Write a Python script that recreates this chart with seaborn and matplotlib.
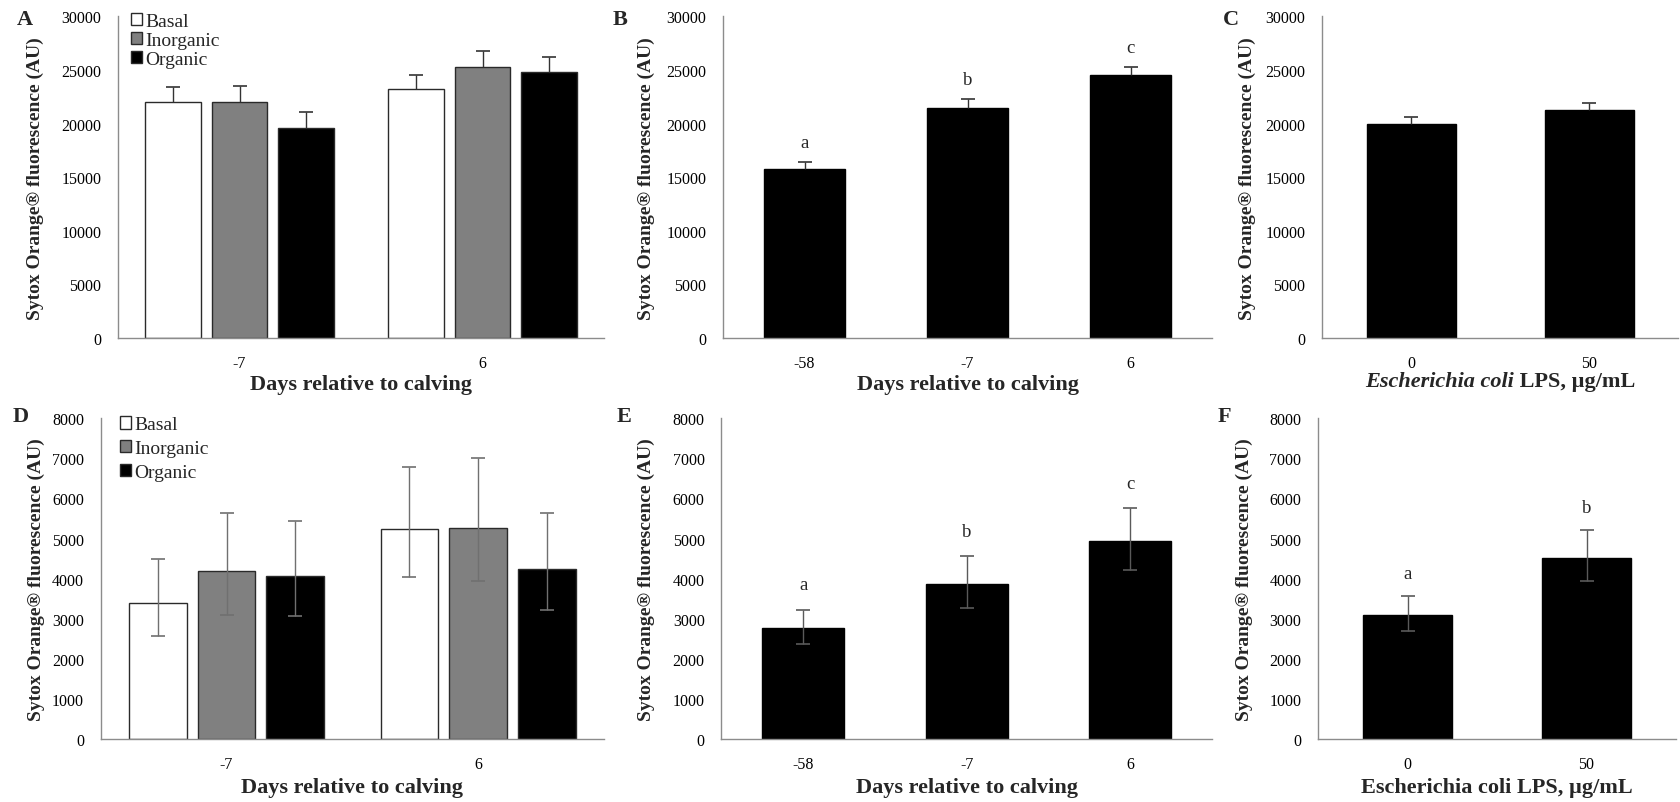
import numpy as np
import pandas as pd
import matplotlib
matplotlib.use("Agg")
import matplotlib.pyplot as plt
import matplotlib.transforms as mtrans
from matplotlib.offsetbox import TextArea, HPacker, AnchoredOffsetbox
import seaborn as sns

# ---------------- data ----------------
diets = ["Basal", "Inorganic", "Organic"]
days_ad = ["-7", "6"]
days_be = ["-58", "-7", "6"]
lps_dose = ["0", "50"]

# Panel A: means and (upper) SE
a_basal = [22000, 23220]
a_inorganic = [22050, 25300]
a_organic = [19600, 24800]
a_basal_se = [1400, 1280]
a_inorganic_se = [1480, 1460]
a_organic_se = [1430, 1400]

# Panel B
b_mean = [15730, 21480, 24530]
b_se = [710, 780, 740]
b_letters = ["a", "b", "c"]

# Panel C
c_mean = [19940, 21250]
c_se = [650, 650]

# Panel D: means, lower and upper limits
d_basal = [3400, 5230]
d_basal_lo = [2570, 4040]
d_basal_hi = [4490, 6780]
d_inorganic = [4180, 5260]
d_inorganic_lo = [3100, 3930]
d_inorganic_hi = [5650, 7000]
d_organic = [4070, 4250]
d_organic_lo = [3080, 3230]
d_organic_hi = [5430, 5630]

# Panel E
e_mean = [2760, 3860, 4930]
e_lo = [2370, 3280, 4220]
e_hi = [3230, 4560, 5770]
e_letters = ["a", "b", "c"]

# Panel F
f_mean = [3090, 4520]
f_lo = [2700, 3930]
f_hi = [3560, 5220]
f_letters = ["a", "b"]

ylab = "Sytox Orange® fluorescence (AU)"
xlab_days = "Days relative to calving"
xlab_lps_italic = "Escherichia coli"
xlab_lps_rest = " LPS, µg/mL"

# ---------------- style ----------------
sns.set_style("white")
FAMILY = ["Liberation Serif", "DejaVu Serif"]
plt.rcParams["font.family"] = FAMILY
GRAY = "#8c8c8c"
palette = {"Basal": "white", "Inorganic": "#808080", "Organic": "black"}

W, H = 1680, 803
fig = plt.figure(figsize=(W / 100, H / 100), dpi=100)
fig.patch.set_facecolor("white")


def make_ax(left, right, top, bottom):
    return fig.add_axes([left / W, 1 - bottom / H, (right - left) / W, (bottom - top) / H])


def style(ax, ymax, ystep, ylabel_cx, xlabel_base, xlabel=None):
    ax.set_ylim(0, ymax)
    ticks = np.arange(0, ymax + 1, ystep)
    ax.set_yticks(ticks)
    ax.set_yticklabels([str(int(t)) for t in ticks])
    for s in ["top", "right"]:
        ax.spines[s].set_visible(False)
    for s in ["left", "bottom"]:
        ax.spines[s].set_color(GRAY)
        ax.spines[s].set_linewidth(1.0)
    ax.tick_params(axis="y", length=4, width=1, color=GRAY, direction="out",
                   pad=8, labelsize=11.5, labelcolor="black")
    n = len(ax.get_xticks())
    ax.tick_params(axis="x", which="major", length=0, pad=12, labelsize=11.5,
                   labelcolor="black")
    ax.set_xticks(np.arange(-0.5, n, 1.0), minor=True)
    ax.tick_params(axis="x", which="minor", length=5, width=1, color=GRAY,
                   direction="out")
    ax.set_xlim(-0.5, n - 0.5)
    ax.set_ylabel(ylab, fontsize=14, fontweight="bold")
    ax.yaxis.label.set_va("center")
    ax.yaxis.set_label_coords(ylabel_cx / W, 0.5,
                              transform=mtrans.blended_transform_factory(fig.transFigure, ax.transAxes))
    if xlabel is not None:
        ax.set_xlabel(xlabel, fontsize=16, fontweight="bold")
        ax.xaxis.label.set_va("baseline")
        ax.xaxis.set_label_coords(0.5, 1 - xlabel_base / H,
                                  transform=mtrans.blended_transform_factory(ax.transAxes, fig.transFigure))
    else:
        ax.set_xlabel("")


def bar_centers(container):
    return [b.get_x() + b.get_width() / 2 for b in container]


def add_err(ax, xs, means, lo, hi, ecolor):
    eb = ax.errorbar(xs, means, yerr=[lo, hi], fmt="none", ecolor=ecolor,
                     elinewidth=1.0, capsize=5, capthick=1.2, zorder=5)
    # one-sided (plus only) error bars: hide the lower cap
    if all(v == 0 for v in lo) and len(eb[1]) == 2:
        eb[1][0].set_visible(False)


def grouped(ax, means, lo_err, hi_err, ecolor):
    df = pd.DataFrame({
        "day": days_ad * 3,
        "diet": np.repeat(diets, len(days_ad)),
        "value": means[0] + means[1] + means[2],
    })
    sns.barplot(data=df, x="day", y="value", hue="diet", order=days_ad,
                hue_order=diets, palette=palette, saturation=1, width=0.82,
                gap=0.16, edgecolor="#2a2a2a", linewidth=1.0, errorbar=None,
                ax=ax, legend=False)
    bars = list(ax.containers)
    for i, cont in enumerate(bars):
        add_err(ax, bar_centers(cont), means[i], lo_err[i], hi_err[i], ecolor)
    return bars


def simple(ax, cats, means, lo_err, hi_err, ecolor):
    sns.barplot(x=cats, y=means, order=cats, color="black", saturation=1,
                width=0.5, edgecolor="black", linewidth=1.0, errorbar=None, ax=ax)
    xs = bar_centers(list(ax.containers)[0])
    add_err(ax, xs, means, lo_err, hi_err, ecolor)
    return xs


def legend(ax, bars, x, y, spacing):
    return ax.legend(bars, diets, loc="upper left", bbox_to_anchor=(x, y),
                     frameon=False, fontsize=14,
                     handlelength=0.58, handleheight=0.58,
                     handletextpad=0.15, labelspacing=spacing, borderpad=0,
                     borderaxespad=0)


def letter(x_px, base_px, txt):
    fig.text(x_px / W, 1 - base_px / H, txt, fontsize=16, fontweight="bold",
             ha="left", va="baseline")


# ---------------- Panel A ----------------
axA = make_ax(118, 604, 17.3, 339)
barsA = grouped(axA, [a_basal, a_inorganic, a_organic],
                [[0, 0], [0, 0], [0, 0]],
                [a_basal_se, a_inorganic_se, a_organic_se], "#333333")
style(axA, 30000, 5000, 35, 390, xlab_days)
legend(axA, barsA, 0.027, 1.01, 0.1)
letter(17, 25, "A")

# ---------------- Panel B ----------------
axB = make_ax(723, 1212, 17.3, 339)
xs = simple(axB, days_be, b_mean, [0] * 3, b_se, "#333333")
for x, m, s, t in zip(xs, b_mean, b_se, b_letters):
    axB.text(x, m + s + 1400, t, ha="center", va="baseline", fontsize=13.5)
style(axB, 30000, 5000, 646, 390, xlab_days)
letter(613, 25, "B")

# ---------------- Panel C ----------------
axC = make_ax(1322, 1678, 17.3, 339)
simple(axC, lps_dose, c_mean, [0] * 2, c_se, "#333333")
style(axC, 30000, 5000, 1247, 390, None)
pack = HPacker(children=[
    TextArea(xlab_lps_italic, textprops=dict(fontsize=16, fontweight="bold", style="italic")),
    TextArea(xlab_lps_rest, textprops=dict(fontsize=16, fontweight="bold")),
], align="baseline", pad=0, sep=0)
axC.add_artist(AnchoredOffsetbox(loc="center", child=pack, pad=0, borderpad=0,
                                 frameon=False, bbox_to_anchor=(0.5, 1 - 382.5 / H),
                                 bbox_transform=mtrans.blended_transform_factory(axC.transAxes, fig.transFigure)))
letter(1223, 25, "C")

# ---------------- Panel D ----------------
axD = make_ax(100.7, 604, 419.3, 740)
d_means = [d_basal, d_inorganic, d_organic]
d_los = [d_basal_lo, d_inorganic_lo, d_organic_lo]
d_his = [d_basal_hi, d_inorganic_hi, d_organic_hi]
barsD = grouped(axD, d_means,
                [[m - l for m, l in zip(mm, ll)] for mm, ll in zip(d_means, d_los)],
                [[h - m for m, h in zip(mm, hh)] for mm, hh in zip(d_means, d_his)],
                "#707070")
style(axD, 8000, 1000, 36, 793, xlab_days)
legend(axD, barsD, 0.038, 1.006, 0.34)
letter(12.5, 421.7, "D")

# ---------------- Panel E ----------------
axE = make_ax(721.4, 1212, 419.3, 740)
xs = simple(axE, days_be, e_mean, [m - l for m, l in zip(e_mean, e_lo)],
            [h - m for m, h in zip(e_mean, e_hi)], "#5a5a5a")
for x, h, t in zip(xs, e_hi, e_letters):
    axE.text(x, h + 500, t, ha="center", va="baseline", fontsize=13.5)
style(axE, 8000, 1000, 646, 793, xlab_days)
letter(617, 421.7, "E")

# ---------------- Panel F ----------------
axF = make_ax(1318, 1676, 419.3, 740)
xs = simple(axF, lps_dose, f_mean, [m - l for m, l in zip(f_mean, f_lo)],
            [h - m for m, h in zip(f_mean, f_hi)], "#5a5a5a")
for x, h, t in zip(xs, f_hi, f_letters):
    axF.text(x, h + 450, t, ha="center", va="baseline", fontsize=13.5)
style(axF, 8000, 1000, 1244, 793, "Escherichia coli LPS, µg/mL")
letter(1218, 421.7, "F")

fig.savefig("out.png", dpi=100, facecolor="white")
